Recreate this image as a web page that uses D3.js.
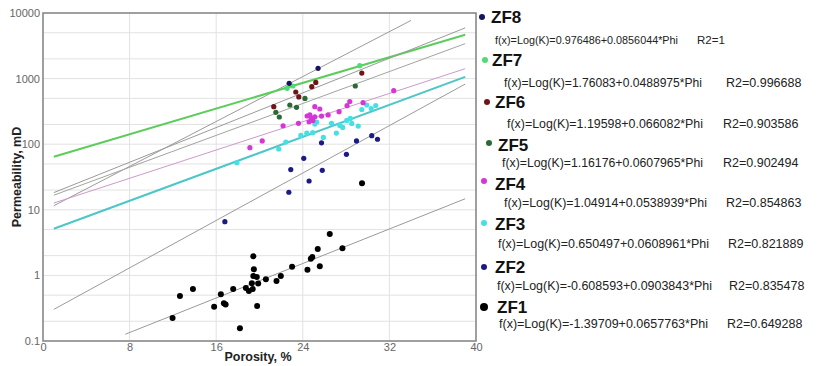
<!DOCTYPE html>
<html>
<head>
<meta charset="utf-8">
<script src="https://cdn.jsdelivr.net/npm/d3@7"></script>
<style>
  html, body { margin: 0; padding: 0; background: #fff; }
  svg { display: block; }
  text { font-family: "Liberation Sans", Arial, sans-serif; }
</style>
</head>
<body>
<svg id="chart" width="822" height="366"></svg>
<script>
// ---------- DATA ----------
const seriesNames = ["ZF8", "ZF7", "ZF6", "ZF5", "ZF4", "ZF3", "ZF2", "ZF1"];
const intercepts = [0.976486, 1.76083, 1.19598, 1.16176, 1.04914, 0.650497, -0.608593, -1.39709];
const slopes = [0.0856044, 0.0488975, 0.066082, 0.0607965, 0.0538939, 0.0608961, 0.0903843, 0.0657763];
const r2Labels = ["1", "0.996688", "0.903586", "0.902494", "0.854863", "0.821889", "0.835478", "0.649288"];
const interceptLabels = ["0.976486", "1.76083", "1.19598", "1.16176", "1.04914", "0.650497", "-0.608593", "-1.39709"];
const slopeLabels = ["0.0856044", "0.0488975", "0.066082", "0.0607965", "0.0538939", "0.0608961", "0.0903843", "0.0657763"];
const lineStart = [1, 1, 1, 1, 1, 1, 1, 7.6];
const lineEnd = [34, 39, 39, 39, 39, 39, 39, 39];

const zf8Phi = [22.74, 25.41];
const zf8K = [848, 1436];
const zf7Phi = [22.55, 23.08, 29.26];
const zf7K = [711, 771, 1574];
const zf6Phi = [21.32, 23.35, 23.63, 24.83, 25.2, 29.45];
const zf6K = [373, 625, 525, 754, 873, 1216];
const zf5Phi = [21.51, 21.83, 22.8, 23.42, 24.2, 28.85];
const zf5K = [306, 260, 396, 365, 498, 771];
const zf4Phi = [19.11, 20.25, 22.18, 23.6, 24.4, 24.58, 24.65, 24.8, 24.93, 25.11, 25.11, 25.57, 25.73, 26.34, 27.35, 28.09, 28.34, 29.57, 32.4];
const zf4K = [88.5, 112, 191, 208, 269, 220, 279, 251, 230, 262, 373, 344, 268, 279, 313, 386, 448, 430, 655];
const zf3Phi = [17.91, 21.78, 22.43, 23.82, 24.37, 24.92, 25.11, 25.29, 25.9, 26.65, 27.1, 27.42, 27.69, 28.06, 28.39, 28.52, 29.12, 29.45, 29.91, 30.32, 30.74];
const zf3K = [52.2, 84.5, 108, 136, 147, 150, 203, 218, 127, 208, 148, 193, 180, 230, 247, 207, 189, 338, 396, 350, 389];
const zf2Phi = [16.8, 22.71, 22.89, 24.09, 24.58, 25.8, 25.73, 28.03, 28.96, 30.37, 30.9];
const zf2K = [6.59, 18.5, 41.1, 61, 27.5, 40, 105, 70, 112, 135, 119];
const zf1Phi = [11.97, 12.65, 13.85, 15.81, 16.43, 16.71, 16.87, 17.57, 18.19, 18.74, 19.02, 19.29, 19.43, 19.48, 19.43, 19.75, 19.88, 19.38, 19.78, 20.59, 21.57, 21.97, 23.01, 24.43, 24.74, 24.88, 25.38, 25.57, 26.49, 27.66, 29.47];
const zf1K = [0.224, 0.485, 0.621, 0.333, 0.515, 0.376, 0.36, 0.621, 0.156, 0.643, 0.578, 0.758, 1.95, 1.24, 0.98, 0.946, 0.753, 0.621, 0.342, 0.873, 0.822, 0.98, 1.36, 1.22, 1.8, 1.91, 2.53, 1.38, 4.28, 2.59, 25.3];

const xTicks = [0, 8, 16, 24, 32, 40];
const yTicks = [0.1, 1, 10, 100, 1000, 10000];
const yTickLabels = ["0.1", "1", "10", "100", "1000", "10000"];
const yGrid = [0.2, 0.5, 1, 2, 5, 10, 20, 50, 100, 200, 500, 1000, 2000, 5000];
const xGrid = [8, 16, 24, 32];

// ---------- STYLE ----------
const markerColors = ["#15155e", "#4fdc72", "#6e1616", "#2b6b33", "#d636d6", "#44e0e4", "#1b1b86", "#000000"];
const lineColors = ["#9a9a9a", "#5ccc5c", "#9a9a9a", "#9fa59f", "#cc9acc", "#4cc6c8", "#9a9a9a", "#9a9a9a"];
const lineWidths = [1, 2, 1, 1, 1, 2, 1, 1];
const markerR = [2.6, 2.6, 2.6, 2.6, 2.6, 2.6, 2.6, 3];

const pts = [
  [zf8Phi, zf8K], [zf7Phi, zf7K], [zf6Phi, zf6K], [zf5Phi, zf5K],
  [zf4Phi, zf4K], [zf3Phi, zf3K], [zf2Phi, zf2K], [zf1Phi, zf1K]
];

const legendPos = [
  {dx: 482, dy: 17, lx: 491, ly: 17, fx: 495, fy: 40, fw: 183, fs: 11.5, rx: 697, r: 3},
  {dx: 485, dy: 60, lx: 492, ly: 60, fx: 504, fy: 82, fw: 198, fs: 12.5, rx: 726, r: 3},
  {dx: 487, dy: 102, lx: 495, ly: 102, fx: 507, fy: 123, fw: 196, fs: 12.5, rx: 723, r: 3},
  {dx: 489, dy: 143, lx: 498, ly: 145, fx: 502, fy: 162, fw: 201, fs: 12.5, rx: 723, r: 3},
  {dx: 484, dy: 181, lx: 495, ly: 184, fx: 504, fy: 202, fw: 203, fs: 12.5, rx: 726, r: 3},
  {dx: 484, dy: 223, lx: 495, ly: 224, fx: 498, fy: 243, fw: 211, fs: 12.5, rx: 728, r: 3},
  {dx: 484, dy: 267, lx: 495, ly: 267, fx: 497, fy: 285, fw: 215, fs: 12.5, rx: 729, r: 3},
  {dx: 484, dy: 307, lx: 497, ly: 307, fx: 499, fy: 323, fw: 209, fs: 12.5, rx: 727, r: 4}
];

// ---------- CHART ----------
const svg = d3.select("#chart");
const L = 43, R = 476, T = 13, B = 341;
const x = d3.scaleLinear().domain([0, 40]).range([L, R]);
const y = d3.scaleLog().domain([0.1, 10000]).range([B, T]);

// grid
svg.append("g").selectAll("line").data(yGrid).join("line")
  .attr("x1", L).attr("x2", R)
  .attr("y1", d => y(d)).attr("y2", d => y(d))
  .attr("stroke", "#e2e2e2").attr("stroke-width", 1);
svg.append("g").selectAll("line").data(xGrid).join("line")
  .attr("y1", T).attr("y2", B)
  .attr("x1", d => x(d)).attr("x2", d => x(d))
  .attr("stroke", "#e2e2e2").attr("stroke-width", 1);

// regression lines
const lineGen = d3.line().x(d => x(d[0])).y(d => y(d[1]));
seriesNames.forEach((name, i) => {
  const f = p => Math.pow(10, intercepts[i] + slopes[i] * p);
  const data = [[lineStart[i], f(lineStart[i])], [lineEnd[i], f(lineEnd[i])]];
  svg.append("path").datum(data)
    .attr("d", lineGen)
    .attr("fill", "none")
    .attr("stroke", lineColors[i])
    .attr("stroke-width", lineWidths[i]);
});

// points
for (let i = seriesNames.length - 1; i >= 0; i--) {
  const [ph, kk] = pts[i];
  svg.append("g").selectAll("circle").data(ph.map((p, j) => [p, kk[j]])).join("circle")
    .attr("cx", d => x(d[0])).attr("cy", d => y(d[1]))
    .attr("r", markerR[i])
    .attr("fill", markerColors[i]);
}

// frame
svg.append("rect")
  .attr("x", L).attr("y", T).attr("width", R - L).attr("height", B - T)
  .attr("fill", "none").attr("stroke", "#808080").attr("stroke-width", 1.5);

// axes
const yAxis = d3.axisLeft(y).tickValues(yTicks)
  .tickFormat((d, i) => yTickLabels[i]).tickSize(0).tickPadding(3);
const gy = svg.append("g").attr("transform", `translate(${L},0)`).call(yAxis);
gy.select(".domain").remove();
gy.selectAll("text").attr("font-size", 11).attr("fill", "#666")
  .attr("font-family", "'Liberation Sans', Arial, sans-serif");

const xAxis = d3.axisBottom(x).tickValues(xTicks).tickFormat(d3.format("d")).tickSize(0).tickPadding(2);
const gx = svg.append("g").attr("transform", `translate(0,${B})`).call(xAxis);
gx.select(".domain").remove();
gx.selectAll("text").attr("font-size", 11).attr("fill", "#666")
  .attr("font-family", "'Liberation Sans', Arial, sans-serif");

// axis titles
svg.append("text").attr("x", 258).attr("y", 361)
  .attr("text-anchor", "middle").attr("font-size", 12.5).attr("font-weight", "bold")
  .attr("fill", "#222").text("Porosity, %");
svg.append("text")
  .attr("transform", `translate(21,${(T + B) / 2}) rotate(-90)`)
  .attr("text-anchor", "middle").attr("font-size", 12.5).attr("font-weight", "bold")
  .attr("fill", "#222").text("Permeability, mD");

// legend
const lg = svg.append("g");
seriesNames.forEach((name, i) => {
  const p = legendPos[i];
  lg.append("circle").attr("cx", p.dx).attr("cy", p.dy).attr("r", p.r).attr("fill", markerColors[i]);
  lg.append("text").attr("x", p.lx).attr("y", p.ly).attr("dy", "0.36em")
    .attr("font-size", 17).attr("font-weight", "bold").attr("fill", "#111").text(name);
  lg.append("text").attr("x", p.fx).attr("y", p.fy).attr("dy", "0.36em")
    .attr("font-size", p.fs).attr("fill", "#222")
    .attr("textLength", p.fw).attr("lengthAdjust", "spacingAndGlyphs")
    .text(`f(x)=Log(K)=${interceptLabels[i]}+${slopeLabels[i]}*Phi`);
  lg.append("text").attr("x", p.rx).attr("y", p.fy).attr("dy", "0.36em")
    .attr("font-size", p.fs).attr("fill", "#222")
    .text(`R2=${r2Labels[i]}`);
});
</script>
</body>
</html>
